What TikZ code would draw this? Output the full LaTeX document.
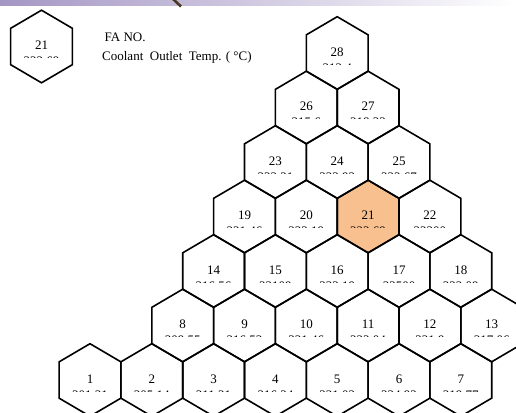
\documentclass[tikz,border=0pt]{standalone}
\usepackage{fontspec}
\setmainfont{Liberation Serif}
\definecolor{hotfa}{HTML}{F9C08F}
\definecolor{barpurple}{HTML}{A496C4}
\definecolor{barbrown}{HTML}{4A3A22}

\begin{document}
\begin{tikzpicture}[
  x=1pt,y=-1pt,
  cell/.style={draw,line width=1.6pt,line join=miter},
  hexcell/.style={insert path={++(0,-36.3) -- ++(30.9,18.15) -- ++(0,36.3)
    -- ++(-30.9,18.15) -- ++(-30.9,-18.15) -- ++(0,-36.3) -- cycle}},
  every node/.style={font=\fontsize{13}{13}\selectfont,inner sep=0pt},
  fano/.style={},
  temp/.style={}
]
  \useasboundingbox (0,0) rectangle (516,412);
  \clip (0,0) rectangle (516,412);

  \shade[left color=barpurple,right color=white] (0,0) rectangle (516,6);
  \draw[barbrown,line width=2.6pt] (173,-1)--(181,6.5);

  % legend
  \draw[cell] (41.5,46.5) [hexcell];
  \node[fano] (key) at (41.5,45) {21};
  \begin{scope}
    \clip (10,0) rectangle (73,57.5);
    \node[temp] (keyt) at (41.5,61.5) {323.69};
  \end{scope}
  \node[anchor=base west] (keyfa) at (104.5,41.5) {FA NO.};
  \node[anchor=base west] (keytemp) at (102,60) {Coolant\ \ Outlet\ \ Temp. ( °C)};

  \pgfmathsetmacro{\hx}{90+61.8*4.5}
  \pgfmathsetmacro{\hy}{380-54.5*3}
  \fill[hotfa] (\hx,\hy) [hexcell];

  \foreach \n/\c/\r/\t in {1/0/0/301.31,2/1/0/305.14,3/2/0/311.21,4/3/0/316.24,
      5/4/0/321.02,6/5/0/324.92,7/6/0/319.77,
      8/1.5/1/309.55,9/2.5/1/316.53,10/3.5/1/321.46,11/4.5/1/323.04,
      12/5.5/1/321.9,13/6.5/1/317.06,
      14/2/2/316.56,15/3/2/32109,16/4/2/323.19,17/5/2/32500,18/6/2/322.09,
      19/2.5/3/321.46,20/3.5/3/323.19,21/4.5/3/323.69,22/5.5/3/32300,
      23/3/4/322.21,24/4/4/323.93,25/5/4/322.67,
      26/3.5/5/315.6,27/4.5/5/318.23,
      28/4/6/312.4} {
    \pgfmathsetmacro{\xx}{90+61.8*\c}
    \pgfmathsetmacro{\yy}{380-54.5*\r}
    \draw[cell] (\xx,\yy) [hexcell];
    \node[fano] (n\n) at (\xx,\yy-1) {\n};
    \begin{scope}
      \clip (\xx-31,\yy-40) rectangle (\xx+31,\yy+11);
      \node[temp] (t\n) at (\xx,\yy+15) {\t};
    \end{scope}
  }
\end{tikzpicture}
\end{document}
